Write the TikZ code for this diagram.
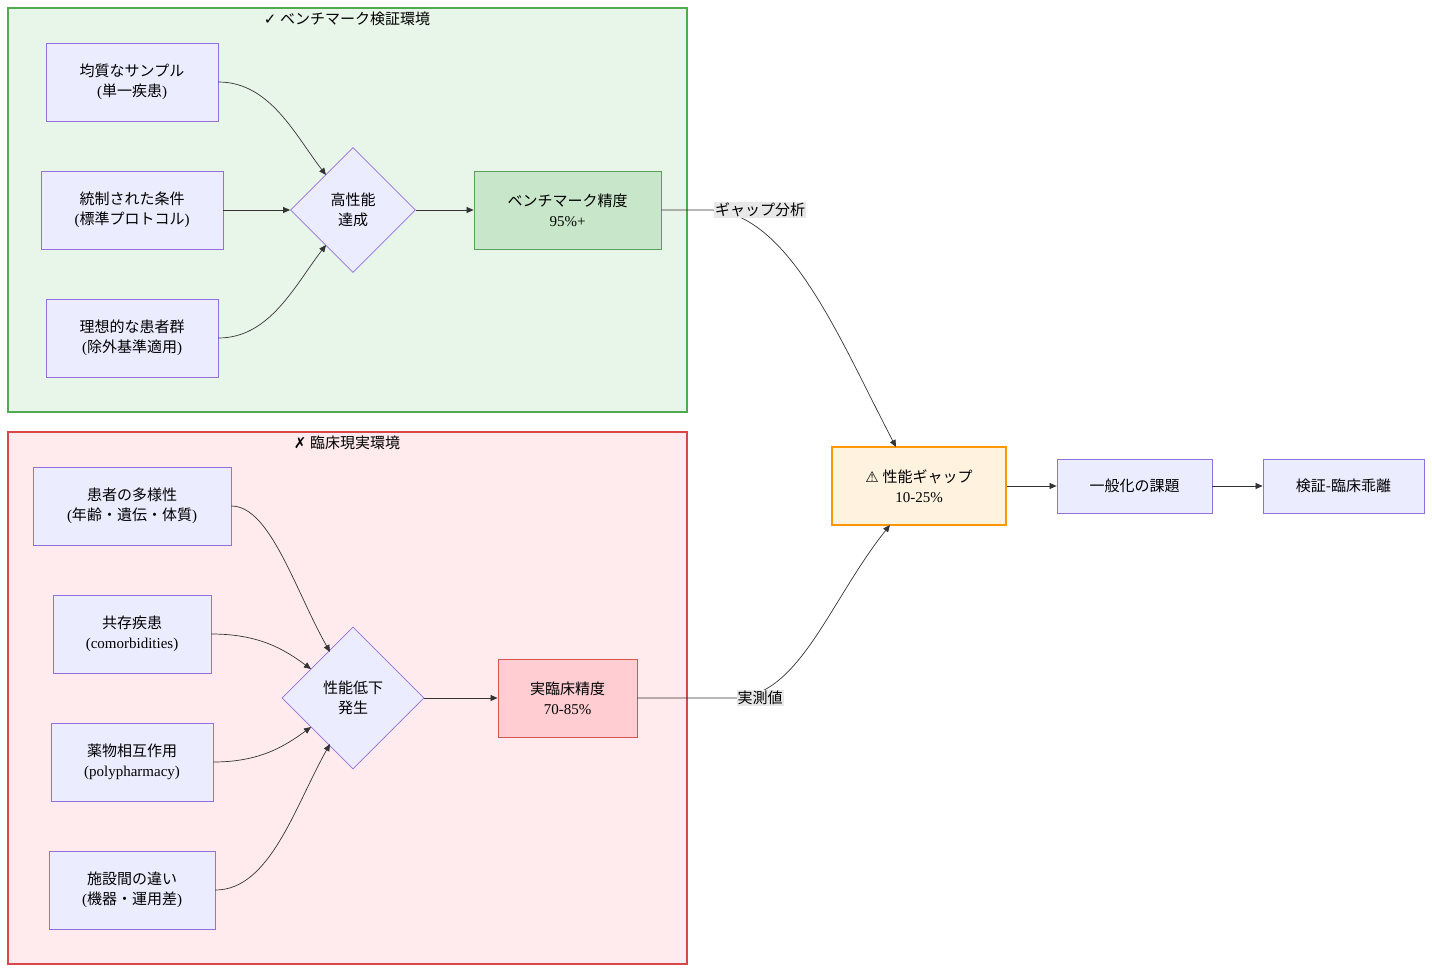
\documentclass[tikz,border=0pt]{standalone}
\usepackage{fontspec}
\setmainfont{Liberation Serif}
\newfontfamily\cjk{Noto Sans CJK JP}
\newfontfamily\symf{DejaVu Sans}
\newcommand{\J}[1]{{\cjk #1}}
\usetikzlibrary{shapes.geometric,arrows.meta}
\begin{document}
\begin{tikzpicture}[x=1pt,y=-1pt,
  every node/.style={font=\fontsize{15}{20}\selectfont, align=center},
  box/.style={draw=#1, line width=0.8pt, fill=#1!0, inner sep=0pt},
  nb/.style={draw={rgb,255:red,147;green,112;blue,219}, fill={rgb,255:red,236;green,236;blue,255}, line width=0.8pt, inner sep=0pt},
  dia/.style={nb, diamond, aspect=1, minimum size=#1},
  arr/.style={draw={rgb,255:red,51;green,51;blue,51}, line width=0.7pt, -{Triangle[length=7pt,width=6pt]}},
  lab/.style={fill={rgb,255:red,232;green,232;blue,232}, inner sep=1pt}]
\useasboundingbox (0,0) rectangle (1432,972);
% clusters
\draw[draw={rgb,255:red,80;green,170;blue,80}, fill={rgb,255:red,232;green,245;blue,233}, line width=1.2pt] (8,8) rectangle (687,412);
\node (tg) at (347,19) {{\symf ✓} \J{ベンチマーク検証環境}};
\draw[draw={rgb,255:red,217;green,72;blue,72}, fill={rgb,255:red,255;green,235;blue,238}, line width=1.2pt] (8,432) rectangle (687,964);
\node (tr) at (347,443) {{\symf ✗} \J{臨床現実環境}};
% nodes
\node[nb, minimum width=172pt, minimum height=78pt] (a1) at (132,82) {\J{均質なサンプル}\\(\J{単一疾患})};
\node[nb, minimum width=182pt, minimum height=78pt] (a2) at (132,210) {\J{統制された条件}\\(\J{標準プロトコル})};
\node[nb, minimum width=172pt, minimum height=78pt] (a3) at (132,338) {\J{理想的な患者群}\\(\J{除外基準適用})};
\node[dia=125pt] (d1) at (353,210) {\J{高性能}\\\J{達成}};
\node[draw={rgb,255:red,90;green,160;blue,90}, fill={rgb,255:red,200;green,230;blue,201}, line width=0.8pt, minimum width=187pt, minimum height=78pt] (g1) at (567.5,210) {\J{ベンチマーク精度}\\95\%+};
\node[nb, minimum width=198pt, minimum height=78pt] (b1) at (132,506) {\J{患者の多様性}\\(\J{年齢・遺伝・体質})};
\node[nb, minimum width=158pt, minimum height=78pt] (b2) at (132,634) {\J{共存疾患}\\(comorbidities)};
\node[nb, minimum width=162pt, minimum height=78pt] (b3) at (132,762) {\J{薬物相互作用}\\(polypharmacy)};
\node[nb, minimum width=166pt, minimum height=78pt] (b4) at (132,890) {\J{施設間の違い}\\(\J{機器・運用差})};
\node[dia=142pt] (d2) at (353,698) {\J{性能低下}\\\J{発生}};
\node[draw={rgb,255:red,217;green,83;blue,79}, fill={rgb,255:red,255;green,205;blue,210}, line width=0.8pt, minimum width=139pt, minimum height=78pt] (r1) at (567.5,698) {\J{実臨床精度}\\70-85\%};
\node[draw={rgb,255:red,255;green,152;blue,0}, fill={rgb,255:red,255;green,243;blue,224}, line width=2.5pt, minimum width=174pt, minimum height=78pt] (p) at (919,486) {{\symf ⚠} \J{性能ギャップ}\\10-25\%};
\node[nb, minimum width=155pt, minimum height=54pt] (e1) at (1134.5,486) {\J{一般化の課題}};
\node[nb, minimum width=161pt, minimum height=54pt] (e2) at (1343.5,486) {\J{検証-臨床乖離}};
% edges
\draw[arr] (a1.east) .. controls (270,82) and (295,135) .. (326,175);
\draw[arr] (a2.east) -- (d1.west);
\draw[arr] (a3.east) .. controls (270,338) and (295,285) .. (326,245);
\draw[arr] (d1.east) -- (g1.west);
\draw[arr] (b1.east) .. controls (270,506) and (295,590) .. (330,652);
\draw[arr] (b2.east) .. controls (260,634) and (285,650) .. (311,669);
\draw[arr] (b3.east) .. controls (260,762) and (285,746) .. (311,727);
\draw[arr] (b4.east) .. controls (270,890) and (295,806) .. (330,744);
\draw[arr] (d2.east) -- (r1.west);
\coordinate (c1) at (712,210);
\coordinate (c2) at (736,698);
\draw[arr] (g1.east) -- (c1) .. controls (790,215) and (840,340) .. (896,447);
\draw[arr] (r1.east) -- (c2) .. controls (800,695) and (830,600) .. (890,525);
\node[lab] (l1) at (760,210) {\J{ギャップ分析}};
\node[lab] (l2) at (760,698) {\J{実測値}};
\draw[arr] (p.east) -- (e1.west);
\draw[arr] (e1.east) -- (e2.west);
\end{tikzpicture}
\end{document}
